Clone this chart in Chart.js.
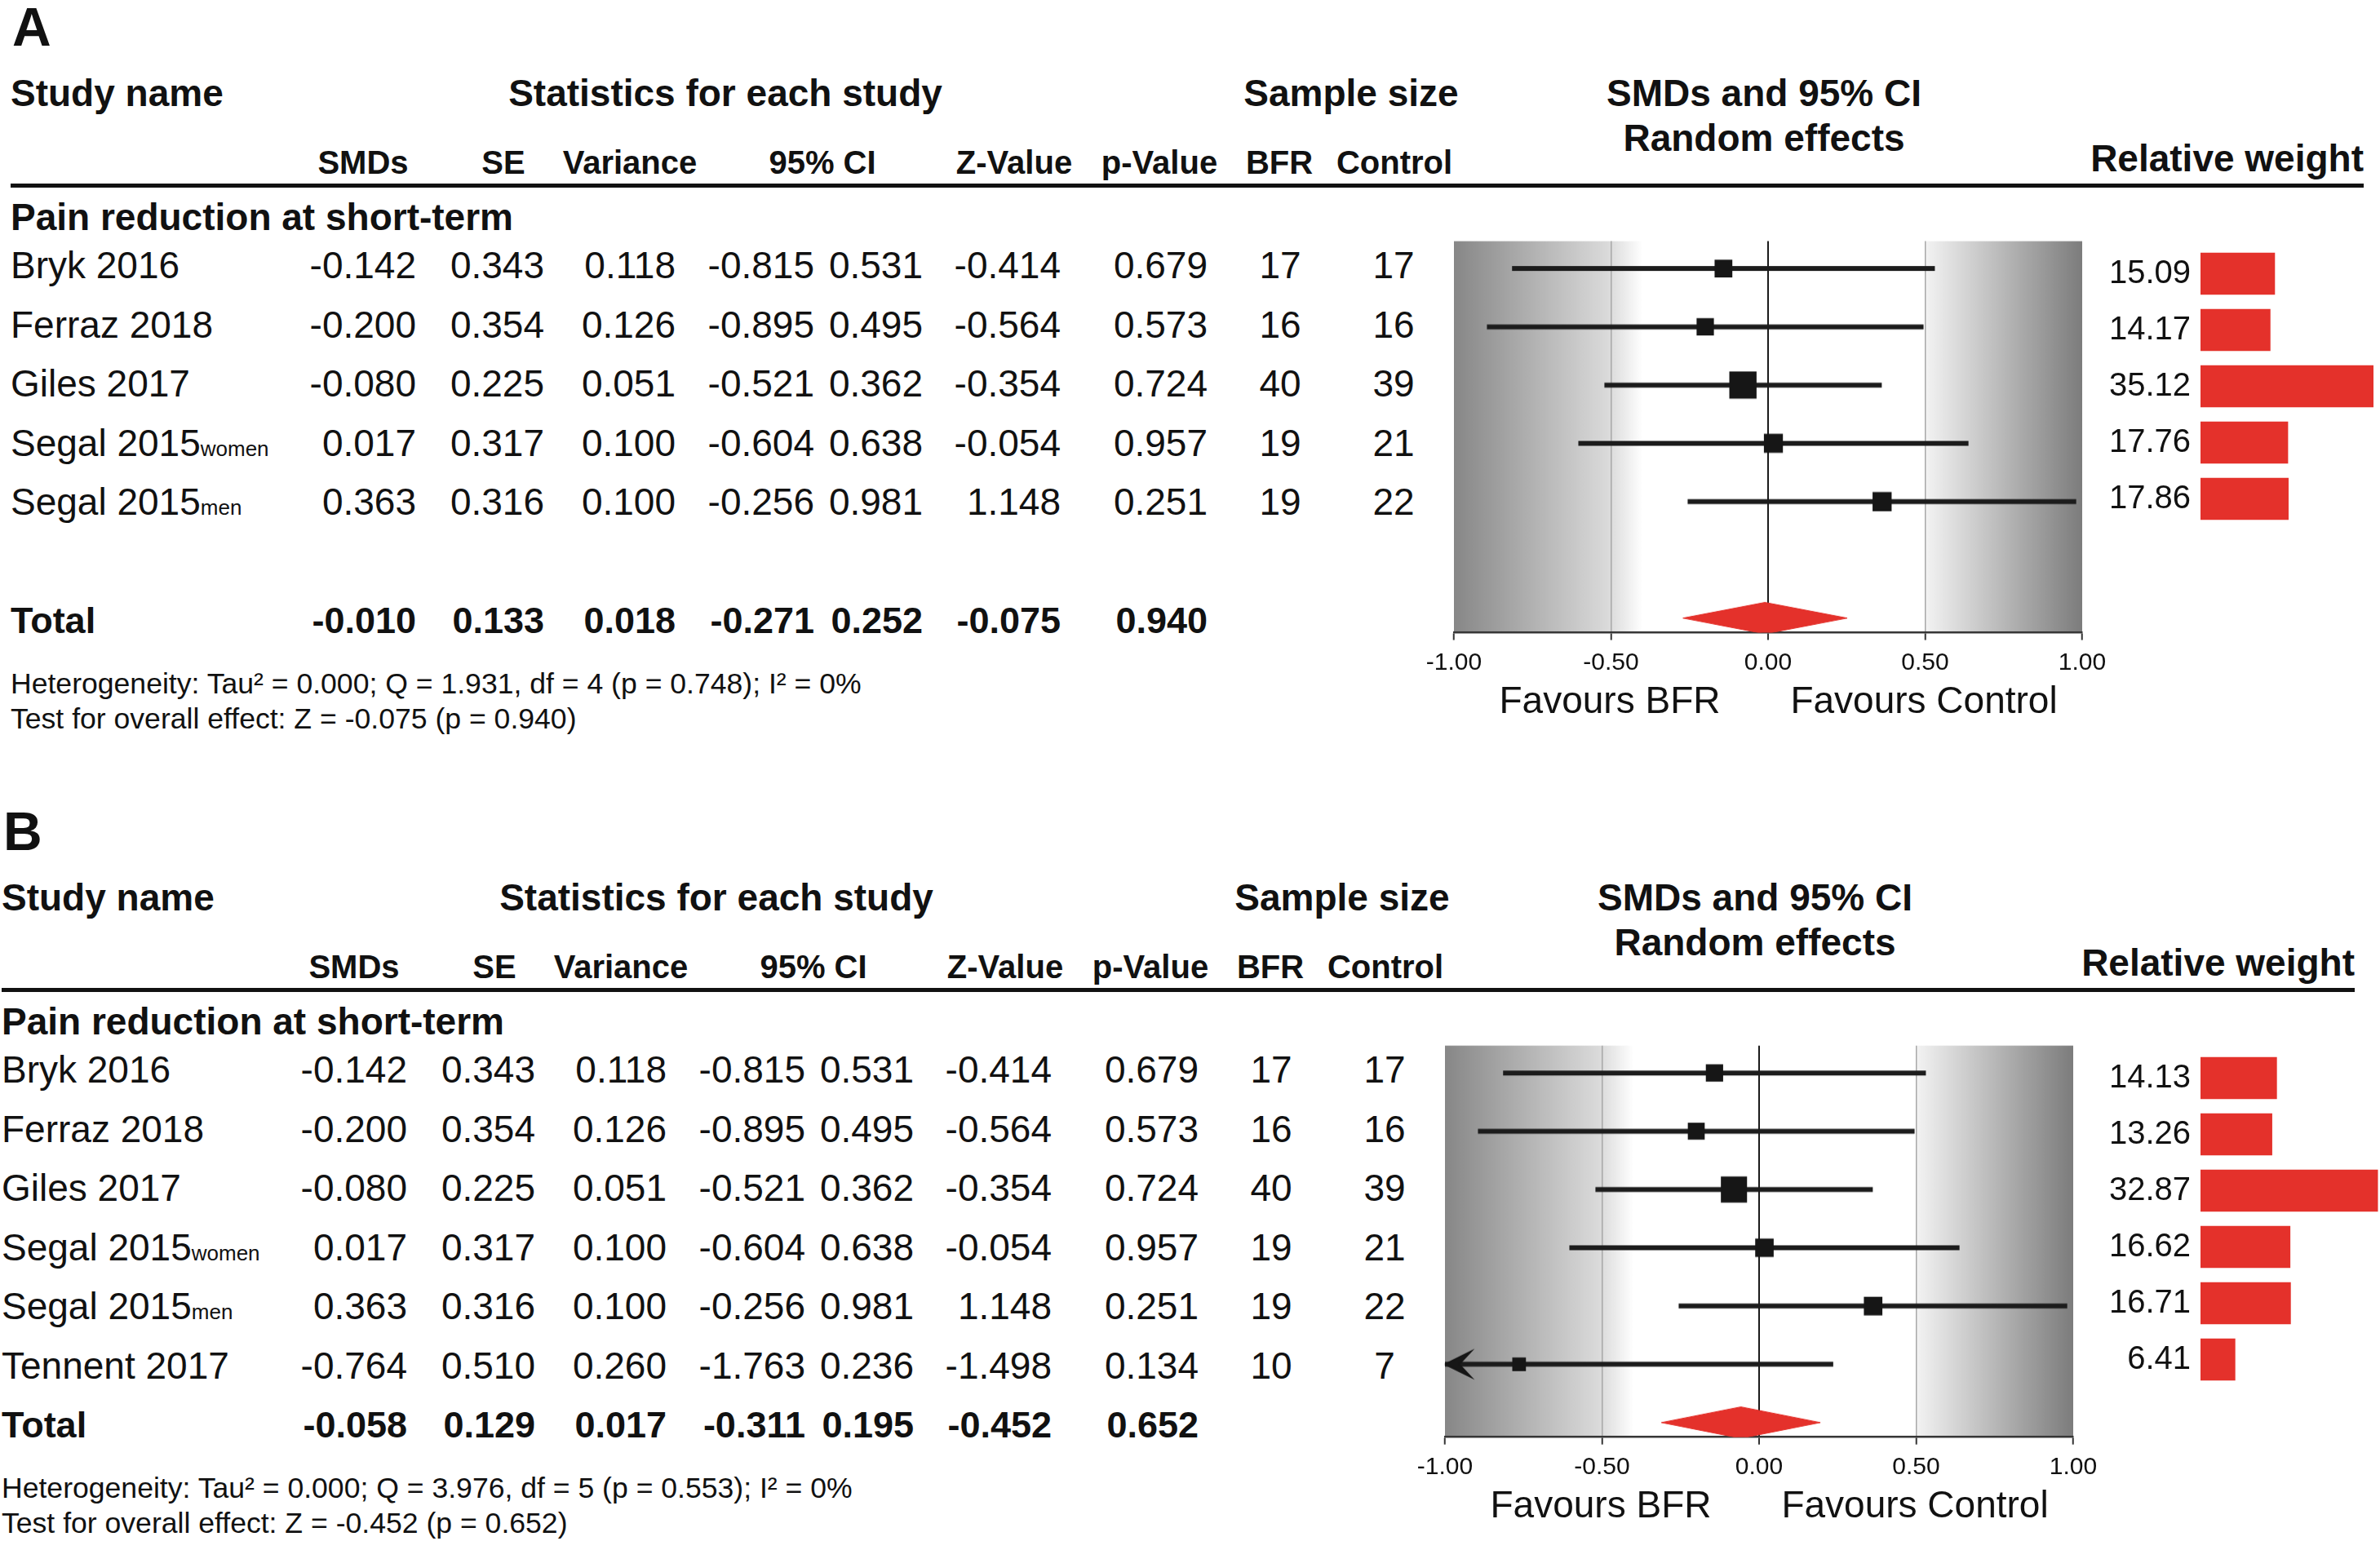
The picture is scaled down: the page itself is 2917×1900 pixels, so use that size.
<!DOCTYPE html>
<html>
<head>
<meta charset="utf-8">
<script src="https://cdn.jsdelivr.net/npm/chart.js@4.4.1/dist/chart.umd.min.js"></script>
<style>
html, body { margin: 0; padding: 0; background: #fff; }
#page { position: relative; width: 2917px; height: 1900px; overflow: hidden; background: #fff;
        font-family: "Liberation Sans", Arial, sans-serif; color: #111; }
.t { position: absolute; white-space: nowrap; }
.sub { font-size: 26px; }
canvas { position: absolute; }
.rule { position: absolute; background: #111; }
</style>
</head>
<body>
<div id="page"></div>
<script>
// column headings and axis ticks
const titleCols = ['Study name', 'Statistics for each study', 'Sample size', 'SMDs and 95% CI', 'Random effects', 'Relative weight'];
const headerCols = ['SMDs', 'SE', 'Variance', '95% CI', 'Z-Value', 'p-Value', 'BFR', 'Control'];
const groupLabel = 'Pain reduction at short-term';
const forestTicks = [-1, -0.5, 0, 0.5, 1];
const favourLabels = ['Favours BFR', 'Favours Control'];

// panel A
const studiesA = ['Bryk 2016', 'Ferraz 2018', 'Giles 2017', 'Segal 2015', 'Segal 2015'];
const subgroupA = ['', '', '', 'women', 'men'];
const smdA = [-0.142, -0.200, -0.080, 0.017, 0.363];
const seA = [0.343, 0.354, 0.225, 0.317, 0.316];
const varA = [0.118, 0.126, 0.051, 0.100, 0.100];
const loA = [-0.815, -0.895, -0.521, -0.604, -0.256];
const hiA = [0.531, 0.495, 0.362, 0.638, 0.981];
const zA = [-0.414, -0.564, -0.354, -0.054, 1.148];
const pA = [0.679, 0.573, 0.724, 0.957, 0.251];
const bfrA = [17, 16, 40, 19, 19];
const ctrlA = [17, 16, 39, 21, 22];
const weightA = [15.09, 14.17, 35.12, 17.76, 17.86];
const totalA = [-0.010, 0.133, 0.018, -0.271, 0.252, -0.075, 0.940];
const notesA = ['Heterogeneity: Tau² = 0.000; Q = 1.931, df = 4 (p = 0.748); I² = 0%',
                'Test for overall effect: Z = -0.075 (p = 0.940)'];

// panel B
const studiesB = ['Bryk 2016', 'Ferraz 2018', 'Giles 2017', 'Segal 2015', 'Segal 2015', 'Tennent 2017'];
const subgroupB = ['', '', '', 'women', 'men', ''];
const smdB = [-0.142, -0.200, -0.080, 0.017, 0.363, -0.764];
const seB = [0.343, 0.354, 0.225, 0.317, 0.316, 0.510];
const varB = [0.118, 0.126, 0.051, 0.100, 0.100, 0.260];
const loB = [-0.815, -0.895, -0.521, -0.604, -0.256, -1.763];
const hiB = [0.531, 0.495, 0.362, 0.638, 0.981, 0.236];
const zB = [-0.414, -0.564, -0.354, -0.054, 1.148, -1.498];
const pB = [0.679, 0.573, 0.724, 0.957, 0.251, 0.134];
const bfrB = [17, 16, 40, 19, 19, 10];
const ctrlB = [17, 16, 39, 21, 22, 7];
const weightB = [14.13, 13.26, 32.87, 16.62, 16.71, 6.41];
const totalB = [-0.058, 0.129, 0.017, -0.311, 0.195, -0.452, 0.652];
const notesB = ['Heterogeneity: Tau² = 0.000; Q = 3.976, df = 5 (p = 0.553); I² = 0%',
                'Test for overall effect: Z = -0.452 (p = 0.652)'];

Chart.defaults.font.family = '"Liberation Sans", Arial, sans-serif';
Chart.defaults.color = '#111';

const page = document.getElementById('page');
const RED = '#e4312b';

function txt(s, x, y, size, align, bold, html) {
  const d = document.createElement('div');
  d.className = 't';
  d.style.fontSize = size + 'px';
  d.style.lineHeight = size + 'px';
  d.style.left = x + 'px';
  d.style.top = (y - size / 2) + 'px';
  if (bold) d.style.fontWeight = 'bold';
  if (align === 'right') d.style.transform = 'translateX(-100%)';
  if (align === 'center') d.style.transform = 'translateX(-50%)';
  if (html) d.innerHTML = s; else d.textContent = s;
  page.appendChild(d);
}

// grey bands behind the forest plot
const shadeLeft = [-1, -0.5, -0.4];
const shadeRight = [0.5, 1];
const shadePlugin = {
  id: 'shade',
  beforeDraw(chart) {
    const { ctx, chartArea: a, scales: { x } } = chart;
    ctx.save();
    const l0 = x.getPixelForValue(shadeLeft[0]), l1 = x.getPixelForValue(shadeLeft[1]), l2 = x.getPixelForValue(shadeLeft[2]);
    let g = ctx.createLinearGradient(l0, 0, l2, 0);
    g.addColorStop(0, '#878787');
    g.addColorStop((l1 - l0) / (l2 - l0), '#dcdcdc');
    g.addColorStop(1, '#ffffff');
    ctx.fillStyle = g;
    ctx.fillRect(l0, a.top, l2 - l0, a.bottom - a.top);
    const r0 = x.getPixelForValue(shadeRight[0]), r1 = x.getPixelForValue(shadeRight[1]);
    g = ctx.createLinearGradient(r0, 0, r1, 0);
    g.addColorStop(0, '#f3f3f3');
    g.addColorStop(1, '#7c7c7c');
    ctx.fillStyle = g;
    ctx.fillRect(r0, a.top, r1 - r0, a.bottom - a.top);
    ctx.restore();
  }
};

function forest(P, ox, oy) {
  const L = 1782 + ox, T = 296 + oy, W = 770, H = 479;
  const pad = 50, padTop = 10, axisH = 60;
  const cv = document.createElement('canvas');
  cv.width = W + 2 * pad;
  cv.height = H + padTop + axisH;
  cv.style.left = (L - pad) + 'px';
  cv.style.top = (T - padTop) + 'px';
  page.appendChild(cv);

  const xMin = forestTicks[0], xMax = forestTicks[forestTicks.length - 1];
  const totalRow = 6, halfH = 0.27;
  const datasets = [];
  P.smd.forEach((v, i) => {
    datasets.push({ type: 'line', data: [{ x: P.lo[i], y: i }, { x: P.hi[i], y: i }],
      borderColor: '#1c1c1c', borderWidth: 6, pointRadius: 0, order: 3 });
  });
  datasets.push({ type: 'scatter', data: P.smd.map((v, i) => ({ x: v, y: i })),
    pointStyle: 'rect', pointRadius: P.weight.map(w => (13 + 0.58 * w) / Math.SQRT2),
    backgroundColor: '#161616', borderWidth: 0, order: 1 });
  // arrow head where the interval runs past the axis
  P.lo.forEach((v, i) => {
    if (v >= xMin) return;
    datasets.push({ type: 'line', data: [
        { x: xMin, y: i }, { x: xMin + 0.083, y: i - 0.22 }, { x: xMin + 0.045, y: i },
        { x: xMin + 0.083, y: i + 0.22 }, { x: xMin, y: i }],
      borderColor: '#161616', backgroundColor: '#161616', borderWidth: 2, pointRadius: 0,
      fill: 'shape', order: 1, clip: 4 });
  });
  const t = P.total;
  datasets.push({ type: 'line', data: [
      { x: t[3], y: totalRow }, { x: t[0], y: totalRow - halfH },
      { x: t[4], y: totalRow }, { x: t[0], y: totalRow + halfH }, { x: t[3], y: totalRow }],
    borderColor: RED, backgroundColor: RED, borderWidth: 1, pointRadius: 0, fill: 'shape', order: 2 });

  const ch = new Chart(cv, {
    type: 'scatter',
    data: { datasets },
    plugins: [shadePlugin],
    options: {
      responsive: false, maintainAspectRatio: false, animation: false, devicePixelRatio: 1,
      layout: { padding: { left: pad, right: pad, top: padTop, bottom: 0 } },
      plugins: { legend: { display: false }, tooltip: { enabled: false } },
      scales: {
        x: {
          type: 'linear', min: xMin, max: xMax,
          afterBuildTicks: s => { s.ticks = forestTicks.map(v => ({ value: v })); },
          afterFit: s => { s.height = axisH; s.paddingLeft = 0; s.paddingRight = 0; s.paddingTop = 0; s.paddingBottom = 0; },
          ticks: { callback: v => Number(v).toFixed(2), font: { size: 30 }, color: '#111',
                   padding: 10, maxRotation: 0, autoSkip: false },
          grid: {
            color: c => c.tick && c.tick.value === 0 ? '#1a1a1a' : (c.tick && Math.abs(c.tick.value) === 0.5 ? '#a8a8a8' : 'rgba(0,0,0,0)'),
            lineWidth: c => c.tick && c.tick.value === 0 ? 2 : 1.5,
            drawTicks: true, tickLength: 9, tickColor: '#333', tickWidth: 2
          },
          border: { display: true, color: '#333', width: 2.5 }
        },
        y: { type: 'linear', display: false, min: -0.47, max: 6.25, reverse: true,
             afterFit: s => { s.paddingTop = 0; s.paddingBottom = 0; s.width = 0; } }
      }
    }
  });
  // keep the plotting area exactly where the reference has it
  const extraTop = ch.chartArea.top - padTop;
  const extraBot = (cv.height - axisH) - ch.chartArea.bottom;
  if (Math.abs(extraTop) > 0.5 || Math.abs(extraBot) > 0.5) {
    const h = cv.height + extraTop + extraBot;
    cv.style.top = (T - padTop - extraTop) + 'px';
    ch.resize(cv.width, h);
  }

  txt(favourLabels[0], 1973 + ox, 858 + oy, 46, 'center');
  txt(favourLabels[1], 2358 + ox, 858 + oy, 46, 'center');
}

function weights(P, oy) {
  const left = 2697, right = 2917, band = 69, labW = 150;
  const n = P.weight.length;
  const cv = document.createElement('canvas');
  cv.width = labW + (right - left);
  cv.height = band * n;
  cv.style.left = (left - labW) + 'px';
  cv.style.top = (335 - band / 2 + oy) + 'px';
  page.appendChild(cv);
  new Chart(cv, {
    type: 'bar',
    data: { labels: P.weight.map(w => w.toFixed(2)),
            datasets: [{ data: P.weight, backgroundColor: RED, barThickness: 51 }] },
    options: {
      indexAxis: 'y', responsive: false, maintainAspectRatio: false, animation: false, devicePixelRatio: 1,
      layout: { padding: 0 },
      plugins: { legend: { display: false }, tooltip: { enabled: false } },
      scales: {
        x: { display: false, min: 0, max: P.weightMax },
        y: {
          afterFit: s => { s.width = labW; s.paddingTop = 0; s.paddingBottom = 0; },
          grid: { display: false, drawTicks: false }, border: { display: false },
          ticks: { font: { size: 40 }, color: '#111', padding: 12 }
        }
      }
    }
  });
}

function panel(P, ox, oy) {
  const rowY = i => 325 + oy + i * 72.6;
  txt(P.letter, 15 + ox, 33 + oy, 66, 'left', true);
  txt(titleCols[0], 13 + ox, 113.5 + oy, 46, 'left', true);
  txt(titleCols[1], 889 + ox, 113.5 + oy, 46, 'center', true);
  txt(titleCols[2], 1656 + ox, 113.5 + oy, 46, 'center', true);
  txt(titleCols[3], 2162 + ox, 113.5 + oy, 46, 'center', true);
  txt(titleCols[4], 2162 + ox, 169 + oy, 46, 'center', true);
  txt(titleCols[5], 2897 + ox, 193.5 + oy, 46, 'right', true);
  const headX = [445, 617, 772, 1008, 1243, 1421, 1568, 1709];
  headerCols.forEach((h, k) => txt(h, headX[k] + ox, 199 + oy, 40, 'center', true));

  const rule = document.createElement('div');
  rule.className = 'rule';
  rule.style.left = (13 + ox) + 'px';
  rule.style.top = (225 + oy) + 'px';
  rule.style.width = '2884px';
  rule.style.height = '5px';
  page.appendChild(rule);

  txt(groupLabel, 13 + ox, 266 + oy, 46, 'left', true);

  const rightX = [510, 667, 828, 998, 1131, 1300, 1480];
  P.studies.forEach((s, i) => {
    const y = rowY(i);
    const name = P.sub[i] ? s + '<span class="sub">' + P.sub[i] + '</span>' : s;
    txt(name, 13 + ox, y, 46, 'left', false, true);
    const vals = [P.smd[i], P.se[i], P.v[i], P.lo[i], P.hi[i], P.z[i], P.p[i]];
    vals.forEach((v, k) => txt(v.toFixed(3), rightX[k] + ox, y, 46, 'right'));
    txt(String(P.bfr[i]), 1569 + ox, y, 46, 'center');
    txt(String(P.ctrl[i]), 1708 + ox, y, 46, 'center');
  });
  const ty = rowY(6);
  txt('Total', 13 + ox, ty, 45, 'left', true);
  P.total.forEach((v, k) => txt(v.toFixed(3), rightX[k] + ox, ty, 45, 'right', true));
  txt(P.notes[0], 13 + ox, 839 + oy, 35.6, 'left');
  txt(P.notes[1], 13 + ox, 882 + oy, 35.6, 'left');

  forest(P, ox, oy);
  weights(P, oy);
}

panel({ letter: 'A', studies: studiesA, sub: subgroupA, smd: smdA, se: seA, v: varA, lo: loA, hi: hiA,
        z: zA, p: pA, bfr: bfrA, ctrl: ctrlA, weight: weightA, weightMax: 36.5, total: totalA, notes: notesA }, 0, 0);
panel({ letter: 'B', studies: studiesB, sub: subgroupB, smd: smdB, se: seB, v: varB, lo: loB, hi: hiB,
        z: zB, p: pB, bfr: bfrB, ctrl: ctrlB, weight: weightB, weightMax: 33.3, total: totalB, notes: notesB }, -11, 986);
</script>
</body>
</html>
